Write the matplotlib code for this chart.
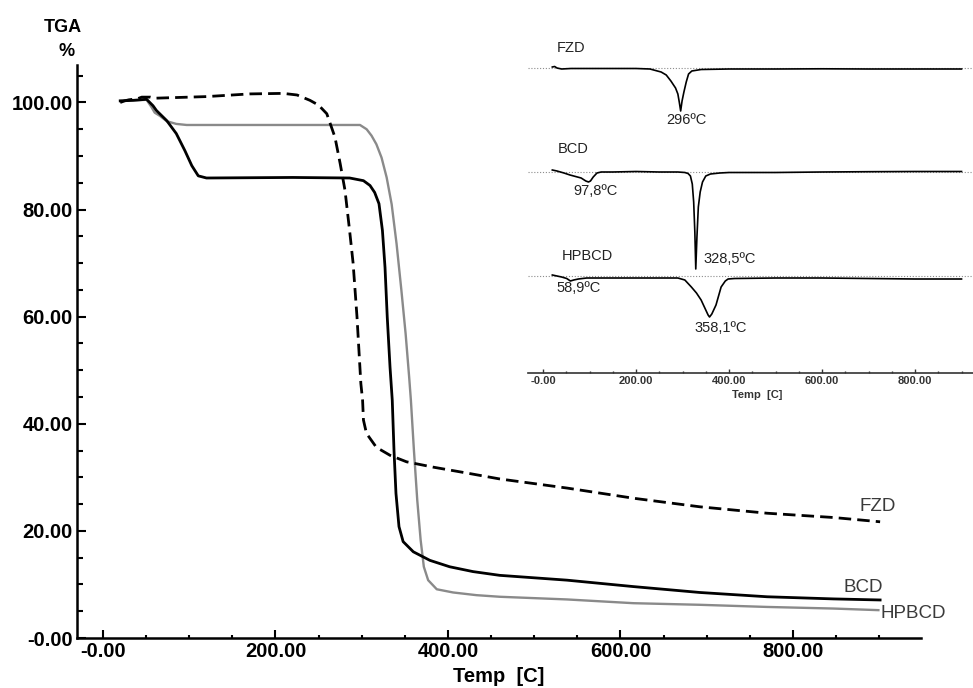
import matplotlib
matplotlib.use("Agg")
import matplotlib.pyplot as plt
from matplotlib.ticker import FixedLocator, MultipleLocator

plt.rcParams['font.family'] = ['Liberation Sans', 'DejaVu Sans']

# ---------------- TGA data (mass %, temperature in C) ----------------
fzd_T = [20, 25, 30, 40, 45, 55, 60, 80, 120, 170, 209, 225, 240, 250, 259.5,
         269, 275, 280.6, 286, 290, 294.5, 299, 301, 302, 305.5, 317, 333, 352,
         383, 422, 460, 538, 615, 692, 770, 847, 901]
fzd_w = [100.0, 100.3, 100.5, 100.7, 101.0, 101.0, 100.8, 100.9, 101.1, 101.6,
         101.7, 101.4, 100.4, 99.5, 97.9, 93.5, 88.6, 83.6, 76.0, 70.0, 60.0,
         47.5, 44.4, 40.7, 38.2, 35.6, 34.1, 32.9, 31.9, 30.8, 29.7, 28.0, 26.1,
         24.5, 23.3, 22.5, 21.7]

bcd_T = [20, 35, 50.6, 58, 62, 74, 85, 95, 103, 110.5, 120, 220, 286, 302,
         309.6, 315, 320, 324, 327, 329.6, 332.8, 335.4, 337.4, 339.7, 343.2,
         348, 359.8, 379, 402, 429, 460, 538, 615, 692, 770, 847, 901]
bcd_w = [100.3, 100.4, 100.6, 99.4, 98.5, 96.6, 94.2, 91.0, 88.2, 86.3, 85.9,
         86.0, 85.9, 85.4, 84.5, 83.2, 81.1, 76.1, 69.2, 59.9, 50.6, 44.4, 35.1,
         27.0, 20.8, 18.0, 16.1, 14.5, 13.3, 12.4, 11.7, 10.8, 9.6, 8.5, 7.7,
         7.3, 7.1]

hpbcd_T = [20, 35, 50.6, 56.4, 60, 66, 74, 85, 97, 200, 298, 305.7, 311.4, 317,
           323, 328.9, 334.7, 340.4, 346, 350.9, 355, 357, 360.5, 364.4, 368.3,
           372, 377, 387, 406, 433, 460, 538, 615, 692, 770, 847, 899]
hpbcd_w = [100.3, 100.4, 100.5, 99.1, 98.1, 97.5, 96.5, 96.0, 95.8, 95.8, 95.8,
           95.0, 93.8, 92.2, 89.7, 86.0, 81.0, 73.6, 64.9, 56.8, 48.7, 44.4,
           35.1, 25.7, 18.3, 13.3, 10.8, 9.1, 8.5, 8.0, 7.7, 7.2, 6.5, 6.2, 5.8,
           5.5, 5.2]

tga_xticks = [0, 200, 400, 600, 800]
tga_xticklabels = ["-0.00", "200.00", "400.00", "600.00", "800.00"]
tga_yticks = [0, 20, 40, 60, 80, 100]
tga_yticklabels = ["-0.00", "20.00", "40.00", "60.00", "80.00", "100.00"]

# ---------------- DSC data (heat flow, arbitrary units) ----------------
dsc_fzd_T = [20, 25, 30, 40, 60, 100, 150, 200, 230, 254, 265, 275, 285, 290,
             293, 296, 299, 303, 308, 313, 320, 340, 400, 500, 600, 700, 800, 900]
dsc_fzd_q = [1.0, 1.5, 0.0, -1.0, -0.5, -0.5, -0.5, -0.5, -1.0, -4.0, -7.0,
             -13.0, -20.0, -26.0, -34.0, -43.0, -33.0, -24.0, -14.0, -6.0, -3.0,
             -1.5, -1.0, -1.0, -0.8, -1.0, -1.0, -1.0]

dsc_bcd_T = [20, 30, 45, 58, 70, 82, 92, 97.8, 102, 108, 116, 125, 150, 200,
             250, 290, 305, 312, 317, 321, 324, 326.5, 328.5, 331, 334, 338, 343,
             350, 360, 380, 400, 500, 600, 700, 800, 900]
dsc_bcd_q = [2.0, 1.0, -1.0, -3.0, -4.5, -6.0, -9.0, -10.0, -9.0, -5.0, -1.0,
             0.0, 0.0, 0.5, 0.0, 0.0, -0.5, -1.5, -4.0, -12.0, -30.0, -60.0,
             -97.0, -65.0, -35.0, -20.0, -10.0, -4.0, -2.0, -1.0, -0.5, -0.5,
             0.0, 0.3, 0.5, 0.5]

dsc_hpbcd_T = [20, 30, 40, 51, 58.9, 66, 76, 94, 115, 200, 290, 305, 319, 330,
               340, 348, 355, 358.1, 363, 372, 383, 392, 398, 412, 500, 600, 700,
               800, 900]
dsc_hpbcd_q = [1.0, 0.0, -1.0, -2.5, -5.0, -4.0, -3.0, -2.0, -2.0, -2.0, -2.0,
               -4.0, -11.0, -17.0, -24.0, -32.0, -39.0, -41.0, -38.0, -29.0,
               -11.0, -5.0, -3.0, -2.5, -2.0, -2.0, -2.5, -3.0, -3.0]

dsc_offsets = {"FZD": 305, "BCD": 201, "HPBCD": 97}
dsc_xticks = [0, 200, 400, 600, 800]
dsc_xticklabels = ["-0.00", "200.00", "400.00", "600.00", "800.00"]

W, H = 973, 688
fig = plt.figure(figsize=(W / 100, H / 100), dpi=100)


def fig_rect(x0, y0, x1, y1):
    """Axes rectangle from pixel corners (top-left origin)."""
    return [x0 / W, 1 - y1 / H, (x1 - x0) / W, (y1 - y0) / H]


# ---------------- main TGA axes ----------------
ax = fig.add_axes(fig_rect(77, 65, 921, 638))
ax.plot(hpbcd_T, hpbcd_w, color='#8a8a8a', lw=1.7, zorder=2)
ax.plot(bcd_T, bcd_w, color='black', lw=2.0, zorder=3)
ax.plot(fzd_T, fzd_w, color='black', lw=2.0, linestyle=(0, (4.5, 2.2)), zorder=4)

ax.set_xlim(-30.1, 948.4)
ax.set_ylim(0, 107)
for s in ('top', 'right'):
    ax.spines[s].set_visible(False)
for s in ('left', 'bottom'):
    ax.spines[s].set_linewidth(1.8)

ax.xaxis.set_major_locator(FixedLocator(tga_xticks))
ax.set_xticklabels(tga_xticklabels)
ax.xaxis.set_minor_locator(MultipleLocator(50))
ax.yaxis.set_major_locator(FixedLocator(tga_yticks))
ax.set_yticklabels(tga_yticklabels)
ax.yaxis.set_minor_locator(MultipleLocator(5))

ax.tick_params(axis='both', which='both', direction='in', width=1.5, pad=3,
               labelsize=14.5)
ax.tick_params(axis='x', which='major', length=6)
ax.tick_params(axis='x', which='minor', length=2.5)
ax.tick_params(axis='y', which='major', length=6.5)
ax.tick_params(axis='y', which='minor', length=4)
for lab in ax.get_xticklabels() + ax.get_yticklabels():
    lab.set_fontweight('bold')

# curve names at the line ends
name_color = '#3a3a3a'
ax.text(877, 24.6, "FZD", fontsize=13.5, color=name_color, va='center', ha='left')
ax.text(858, 9.5, "BCD", fontsize=13.5, color=name_color, va='center', ha='left')
ax.text(901, 4.5, "HPBCD", fontsize=13.5, color=name_color, va='center', ha='left')

fig.text(63 / W, 1 - 28 / H, "TGA", fontsize=13, fontweight='bold', ha='center', va='center')
fig.text(67 / W, 1 - 51 / H, "%", fontsize=13, fontweight='bold', ha='center', va='center')
fig.text(499 / W, 1 - 677 / H, "Temp  [C]", fontsize=14.5, fontweight='bold',
         ha='center', va='center')

# ---------------- inset DSC axes ----------------
ix = fig.add_axes(fig_rect(528, 40, 973, 373))
ix.set_xlim(-32.3, 924.7)
ix.set_ylim(0, 333)
ix.patch.set_alpha(0)
for s in ('top', 'right', 'left'):
    ix.spines[s].set_visible(False)
ix.spines['bottom'].set_linewidth(1.2)
ix.spines['bottom'].set_color('#333333')
ix.set_yticks([])

for name, T, q in (("FZD", dsc_fzd_T, dsc_fzd_q),
                   ("BCD", dsc_bcd_T, dsc_bcd_q),
                   ("HPBCD", dsc_hpbcd_T, dsc_hpbcd_q)):
    base = dsc_offsets[name]
    ix.axhline(base, color='#8c8c8c', lw=0.8, linestyle=(0, (1, 1.6)), zorder=1)
    ix.plot(T, [base + v for v in q], color='black', lw=1.2, zorder=3)

ix.xaxis.set_major_locator(FixedLocator(dsc_xticks))
ix.set_xticklabels(dsc_xticklabels)
ix.xaxis.set_minor_locator(MultipleLocator(50))
ix.tick_params(axis='x', which='both', direction='in', width=1.0, pad=2.5,
               labelsize=8, colors='#333333')
ix.tick_params(axis='x', which='major', length=3)
ix.tick_params(axis='x', which='minor', length=1.8)
for lab in ix.get_xticklabels():
    lab.set_fontweight('bold')

txt_kw = dict(fontsize=10.5, color='#222222', va='center')
ix.text(30, 325, "FZD", ha='left', **txt_kw)
ix.text(307.5, 253, "296ºC", ha='center', **txt_kw)
ix.text(32, 224, "BCD", ha='left', **txt_kw)
ix.text(112, 182, "97,8ºC", ha='center', **txt_kw)
ix.text(344, 114, "328,5ºC", ha='left', **txt_kw)
ix.text(41, 117, "HPBCD", ha='left', **txt_kw)
ix.text(77, 85, "58,9ºC", ha='center', **txt_kw)
ix.text(381, 45, "358,1ºC", ha='center', **txt_kw)

fig.text(757 / W, 1 - 395 / H, "Temp  [C]", fontsize=8, fontweight='bold',
         color='#333333', ha='center', va='center')

fig.savefig("out.png", dpi=100)
